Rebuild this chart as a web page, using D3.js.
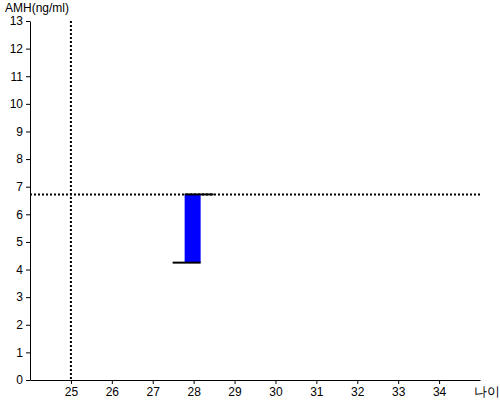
<!DOCTYPE html>
<html>
<head>
<meta charset="utf-8">
<script src="https://cdn.jsdelivr.net/npm/d3@7"></script>
<style>
body { margin: 0; background: #fff; }
text { font-family: "Liberation Sans", Arial, sans-serif; }
</style>
</head>
<body>
<div class="chart"></div>
<script>
var ages = [28];
var amhLow = [4.25];
var amhHigh = [6.72];
var refAge = 25;
var refAmh = 6.72;
var xTicks = [25, 26, 27, 28, 29, 30, 31, 32, 33, 34];
var yTicks = [0, 1, 2, 3, 4, 5, 6, 7, 8, 9, 10, 11, 12, 13];

var width = 500, height = 400;
var margin = ({ top: 21, right: 20, bottom: 20, left: 30 });

var x = d3.scaleLinear().domain([24, 35]).range([margin.left, width - margin.right]);
var y = d3.scaleLinear().domain([0, 13]).range([height - margin.bottom, margin.top]);

var svg = d3.select(".chart")
    .append("svg")
    .attr("width", width)
    .attr("height", height);

// reference lines
svg.append("line")
    .attr("x1", x(refAge)).attr("x2", x(refAge))
    .attr("y1", y(13)).attr("y2", y(0))
    .attr("stroke", "#000")
    .attr("stroke-width", 2)
    .attr("stroke-dasharray", "2,2");

svg.append("line")
    .attr("x1", x(24)).attr("x2", x(35))
    .attr("y1", y(refAmh)).attr("y2", y(refAmh))
    .attr("stroke", "#000")
    .attr("stroke-width", 2)
    .attr("stroke-dasharray", "2,2");

// bars
var bw = 16;
var g = svg.selectAll(".bar")
    .data(ages.map((a, i) => ({ age: a, lo: amhLow[i], hi: amhHigh[i] })))
    .enter().append("g");

g.append("rect")
    .attr("x", d => x(d.age) - bw / 2 - 1)
    .attr("y", d => y(d.hi))
    .attr("width", bw)
    .attr("height", d => y(d.lo) - y(d.hi))
    .attr("fill", "#0000ff");

g.append("line")
    .attr("x1", d => x(d.age) - bw / 2 - 1)
    .attr("x2", d => x(d.age) + bw / 2 + 12)
    .attr("y1", d => y(d.hi)).attr("y2", d => y(d.hi))
    .attr("stroke", "#000").attr("stroke-width", 2);

g.append("line")
    .attr("x1", d => x(d.age) - bw / 2 - 13)
    .attr("x2", d => x(d.age) + bw / 2 - 1)
    .attr("y1", d => y(d.lo)).attr("y2", d => y(d.lo))
    .attr("stroke", "#000").attr("stroke-width", 2);

// axes
var xAxis = svg.append("g")
    .attr("transform", "translate(0," + y(0) + ")")
    .call(d3.axisBottom(x).tickValues(xTicks).tickSize(4).tickSizeOuter(0));

var yAxis = svg.append("g")
    .attr("transform", "translate(" + x(24) + ",0)")
    .call(d3.axisLeft(y).tickValues(yTicks).tickSize(4).tickSizeOuter(0));

[xAxis, yAxis].forEach(a => {
    a.select(".domain").attr("stroke", "#000");
    a.selectAll(".tick line").attr("stroke", "#000");
    a.selectAll("text")
        .attr("font-size", "12px")
        .attr("font-family", "Liberation Sans, Arial, sans-serif")
        .attr("fill", "#000");
});

svg.append("text")
    .text("AMH(ng/ml)")
    .attr("x", 5)
    .attr("y", 12)
    .attr("font-size", "12px")
    .attr("fill", "#000");

svg.append("text")
    .text("나이")
    .attr("x", 474)
    .attr("y", 396)
    .attr("font-size", "13px")
    .attr("font-family", "Noto Sans CJK KR")
    .attr("fill", "#000");
</script>
</body>
</html>
